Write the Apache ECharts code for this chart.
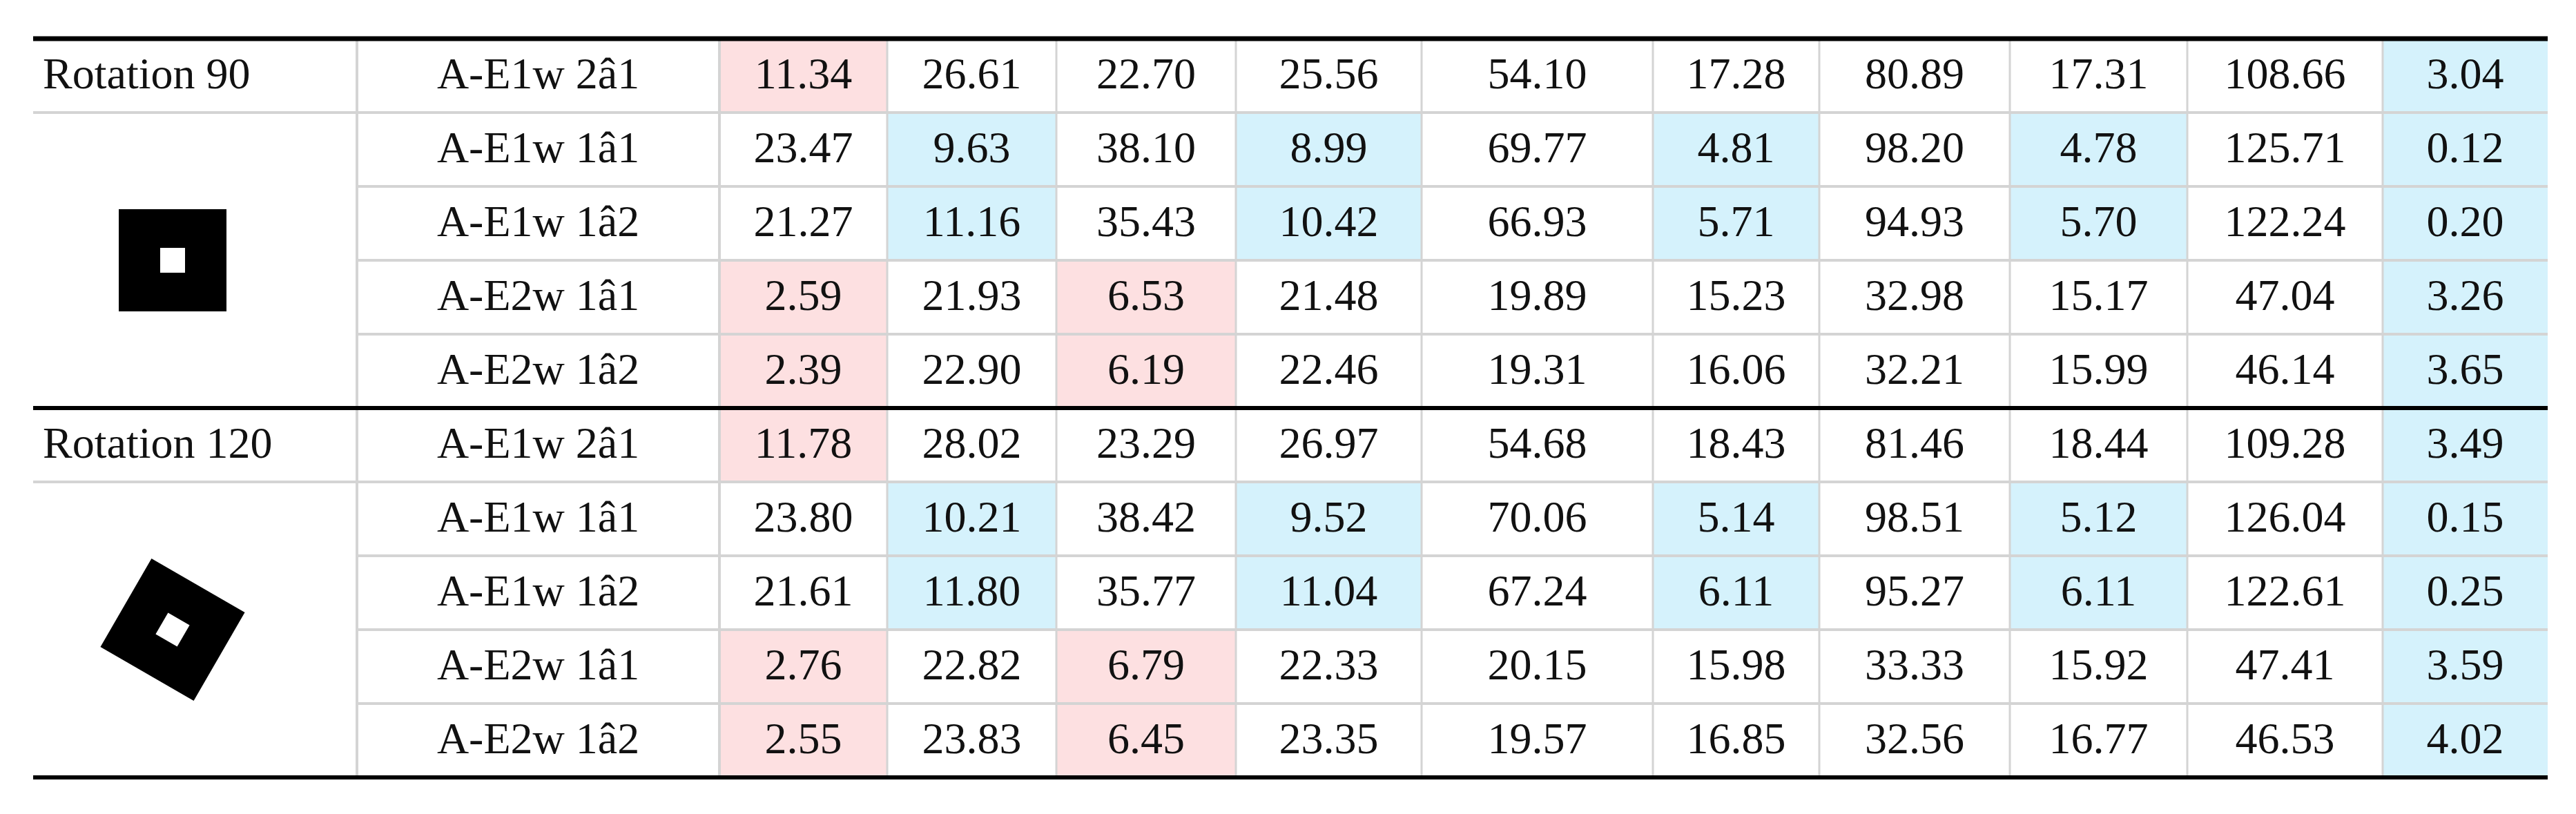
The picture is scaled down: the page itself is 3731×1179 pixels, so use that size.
<!DOCTYPE html>
<html>
<head>
<meta charset="utf-8">
<script src="https://cdn.jsdelivr.net/npm/echarts@6/dist/echarts.min.js"></script>
<style>
html, body { margin: 0; padding: 0; background: #fff; }
#main { width: 3731px; height: 1179px; }
</style>
</head>
<body>
<div id="main"></div>
<script>
// table data
var groups = ['Rotation 90', 'Rotation 120'];
var angles = [0, 30];
var labels = ['A-E1w 2â1', 'A-E1w 1â1', 'A-E1w 1â2', 'A-E2w 1â1', 'A-E2w 1â2'];
var values90 = [
    ['11.34', '26.61', '22.70', '25.56', '54.10', '17.28', '80.89', '17.31', '108.66', '3.04'],
    ['23.47', '9.63', '38.10', '8.99', '69.77', '4.81', '98.20', '4.78', '125.71', '0.12'],
    ['21.27', '11.16', '35.43', '10.42', '66.93', '5.71', '94.93', '5.70', '122.24', '0.20'],
    ['2.59', '21.93', '6.53', '21.48', '19.89', '15.23', '32.98', '15.17', '47.04', '3.26'],
    ['2.39', '22.90', '6.19', '22.46', '19.31', '16.06', '32.21', '15.99', '46.14', '3.65']
];
var values120 = [
    ['11.78', '28.02', '23.29', '26.97', '54.68', '18.43', '81.46', '18.44', '109.28', '3.49'],
    ['23.80', '10.21', '38.42', '9.52', '70.06', '5.14', '98.51', '5.12', '126.04', '0.15'],
    ['21.61', '11.80', '35.77', '11.04', '67.24', '6.11', '95.27', '6.11', '122.61', '0.25'],
    ['2.76', '22.82', '6.79', '22.33', '20.15', '15.98', '33.33', '15.92', '47.41', '3.59'],
    ['2.55', '23.83', '6.45', '23.35', '19.57', '16.85', '32.56', '16.77', '46.53', '4.02']
];
// highlight marks per row: 'p' pink, 'b' blue, '' none
var marks = [
    ['p', '', '', '', '', '', '', '', '', 'b'],
    ['', 'b', '', 'b', '', 'b', '', 'b', '', 'b'],
    ['', 'b', '', 'b', '', 'b', '', 'b', '', 'b'],
    ['p', '', 'p', '', '', '', '', '', '', 'b'],
    ['p', '', 'p', '', '', '', '', '', '', 'b']
];

// layout
var edges = [48, 517, 1042, 1285, 1530, 1790, 2059, 2394, 2635, 2911, 3168, 3451, 3690];
var top0 = 56, rowH = 107;
var FONT = '"Liberation Serif", "DejaVu Serif", serif';
var colors = { p: '#fde0e1', b: '#d5f2fc' };

var cells = [];
[values90, values120].forEach(function (vals, g) {
    vals.forEach(function (row, r) {
        var rr = g * 5 + r;
        cells.push([rr, 1, labels[r], '']);
        row.forEach(function (v, c) {
            cells.push([rr, c + 2, v, marks[r][c]]);
        });
    });
    cells.push([g * 5, 0, groups[g], '']);
});

function renderCell(params, api) {
    var r = api.value(0), c = api.value(1);
    var d = cells[params.dataIndex];
    var x0 = edges[c], x1 = edges[c + 1];
    var y0 = top0 + r * rowH;
    var children = [];
    if (d[3]) {
        children.push({ type: 'rect', shape: { x: x0, y: y0, width: x1 - x0, height: rowH },
            style: { fill: colors[d[3]] } });
    }
    var left = c === 0;
    children.push({ type: 'text', style: {
        x: left ? x0 + 14 : (x0 + x1) / 2, y: y0 + rowH / 2 + 2,
        text: d[2], fill: '#111', font: '64px ' + FONT,
        textAlign: left ? 'left' : 'center', textVerticalAlign: 'middle' } });
    return { type: 'group', children: children };
}

var graphics = [];
var grey = '#d4d4d4';
// vertical grid lines
for (var i = 1; i < edges.length - 1; i++) {
    graphics.push({ type: 'line', shape: { x1: edges[i], y1: top0, x2: edges[i], y2: top0 + 10 * rowH },
        style: { stroke: grey, lineWidth: i < 3 ? 4 : 3 }, z: 5 });
}
// horizontal grid lines
for (var r = 1; r < 10; r++) {
    if (r === 5) continue;
    var xs = (r === 1 || r === 6) ? edges[0] : edges[1];
    graphics.push({ type: 'line', shape: { x1: xs, y1: top0 + r * rowH, x2: edges[12], y2: top0 + r * rowH },
        style: { stroke: grey, lineWidth: 4 }, z: 5 });
}
// thick rules
[0, 5, 10].forEach(function (r) {
    graphics.push({ type: 'line', shape: { x1: edges[0], y1: top0 + r * rowH, x2: edges[12], y2: top0 + r * rowH },
        style: { stroke: '#000', lineWidth: r === 0 ? 7 : 6 }, z: 6 });
});
// square icons
angles.forEach(function (a, g) {
    var cx = 250, cy = top0 + (g * 5 + 3) * rowH;
    graphics.push({ type: 'group', x: cx, y: cy, rotation: -a * Math.PI / 180, z: 6, children: [
        { type: 'rect', shape: { x: -78, y: -74, width: 156, height: 148 }, style: { fill: '#000' } },
        { type: 'rect', shape: { x: -18, y: -18, width: 36, height: 36 }, style: { fill: '#fff' } }
    ] });
});

var chart = echarts.init(document.getElementById('main'));
chart.setOption({
    animation: false,
    xAxis: { show: false }, yAxis: { show: false },
    series: [{
        type: 'custom',
        coordinateSystem: 'none',
        renderItem: renderCell,
        data: cells.map(function (d) { return [d[0], d[1]]; })
    }],
    graphic: graphics
});
</script>
</body>
</html>
